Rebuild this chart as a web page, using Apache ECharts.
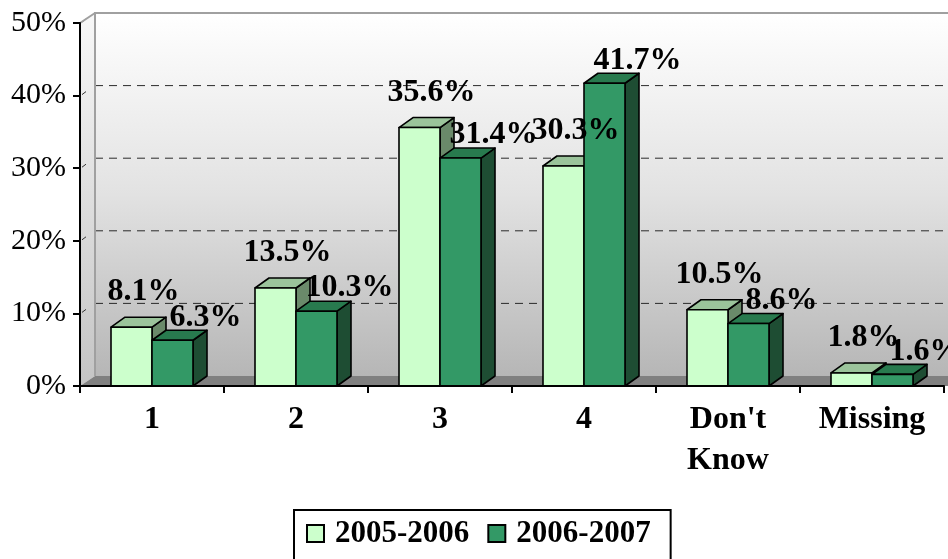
<!DOCTYPE html>
<html><head><meta charset="utf-8">
<script src="https://cdn.jsdelivr.net/npm/echarts@6/dist/echarts.min.js"></script>
<style>html,body{margin:0;padding:0;background:#fff}#c{width:948px;height:559px}</style>
</head><body><div id="c"></div>
<script>
const categories = ['1', '2', '3', '4', "Don't\nKnow", 'Missing'];
const seriesNames = ['2005-2006', '2006-2007'];
const values2005 = [8.1, 13.5, 35.6, 30.3, 10.5, 1.8];
const values2006 = [6.3, 10.3, 31.4, 41.7, 8.6, 1.6];
const yTicks = [0, 10, 20, 30, 40, 50];

const DX = 14, DY = -10;   // bar depth
const WX = 15, WY = -10;   // wall depth
const FONT = "'Liberation Serif','Times New Roman',serif";
const palette = [
  { front: '#CCFFCC', top: '#9BC49B', side: '#6A8A6A' },
  { front: '#339966', top: '#287A4E', side: '#1E4D33' }
];

function barRender(si, ldx, ldy) {
  return function (params, api) {
    const cat = api.value(0), v = api.value(1);
    const base = api.coord([cat, 0]);
    const top = api.coord([cat, v]);
    const band = api.size([1, 0])[0];
    const bw = band * 41 / 144;
    const x0 = si === 0 ? base[0] - bw : base[0];
    const x1 = x0 + bw;
    const yb = base[1], yt = top[1];
    const c = palette[si];
    const st = (fill) => ({ fill: fill, stroke: '#000', lineWidth: 1.6, lineJoin: 'round' });
    return {
      type: 'group',
      children: [
        { type: 'polygon', shape: { points: [[x1, yb], [x1, yt], [x1 + DX, yt + DY], [x1 + DX, yb + DY]] }, style: st(c.side) },
        { type: 'polygon', shape: { points: [[x0, yt], [x0 + DX, yt + DY], [x1 + DX, yt + DY], [x1, yt]] }, style: st(c.top) },
        { type: 'rect', shape: { x: x0, y: yt, width: bw, height: yb - yt }, style: st(c.front) },
        { type: 'text', z2: 100, style: { text: v.toFixed(1) + '%', x: (x0 + x1) / 2 + ldx, y: yt - ldy,
          font: 'bold 32px ' + FONT, fill: '#000', align: 'center', verticalAlign: 'middle' } }
      ]
    };
  };
}

function wallRender(params, api) {
  const cs = params.coordSys;
  const x = cs.x, y = cs.y, w = cs.width, h = cs.height;
  const yb = y + h;
  const children = [];
  children.push({ type: 'rect', shape: { x: x + WX, y: y + WY, width: w + 40, height: h },
    style: { fill: { type: 'linear', x: 0, y: 0, x2: 0, y2: 1, colorStops: [
      { offset: 0, color: '#ffffff' }, { offset: 0.5, color: '#e2e2e2' }, { offset: 1, color: '#b6b6b6' }] } } });
  children.push({ type: 'polygon', shape: { points: [[x, yb], [x, y], [x + WX, y + WY], [x + WX, yb + WY]] },
    style: { fill: { type: 'linear', x: 0, y: 0, x2: 0, y2: 1, colorStops: [
      { offset: 0, color: '#f8f8f8' }, { offset: 1, color: '#c4c4c4' }] } } });
  yTicks.forEach(t => {
    const yy = api.coord([0, t])[1];
    if (t > 0 && t < 50) {
      children.push({ type: 'line', shape: { x1: x + WX, y1: yy + WY, x2: x + w + 40, y2: yy + WY },
        style: { stroke: '#2a2a2a', lineWidth: 1, lineDash: [8, 6] } });
    }
    if (t > 0) {
      children.push({ type: 'line', shape: { x1: x + 2, y1: yy - 1, x2: x + 6, y2: yy - 4 },
        style: { stroke: '#333', lineWidth: 1 } });
    }
  });
  children.push({ type: 'polyline', shape: { points: [[x + WX, yb + WY], [x + WX, y + WY], [x + w + 40, y + WY]] },
    style: { stroke: '#a0a0a0', lineWidth: 2, fill: null } });
  children.push({ type: 'line', shape: { x1: x, y1: y, x2: x + WX, y2: y + WY },
    style: { stroke: '#a0a0a0', lineWidth: 2 } });
  children.push({ type: 'polygon', shape: { points: [[x, yb], [x + WX, yb + WY], [x + w + 40, yb + WY], [x + w + 40, yb]] },
    style: { fill: '#808080' } });
  return { type: 'group', children: children };
}

const chart = echarts.init(document.getElementById('c'), null, { renderer: 'canvas' });
chart.setOption({
  animation: false,
  backgroundColor: '#fff',
  grid: { left: 80, top: 23, width: 864, height: 363, containLabel: false },
  xAxis: {
    type: 'category', data: categories, z: 10,
    axisLine: { lineStyle: { color: '#000', width: 2 } },
    axisTick: { show: true, length: 7, lineStyle: { color: '#000', width: 2 } },
    axisLabel: { interval: 0, margin: 13, color: '#000', fontFamily: FONT, fontWeight: 'bold', fontSize: 32, lineHeight: 41 }
  },
  yAxis: {
    type: 'value', min: 0, max: 50, interval: 10, z: 10,
    axisLine: { show: true, lineStyle: { color: '#000', width: 2 } },
    axisTick: { show: true, length: 7, lineStyle: { color: '#000', width: 2 } },
    splitLine: { show: false },
    axisLabel: { margin: 14, color: '#000', fontFamily: FONT, fontSize: 30, formatter: '{value}%' }
  },
  legend: {
    left: 294, top: 510, orient: 'horizontal',
    borderColor: '#000', borderWidth: 2, padding: [8, 20, 30, 12],
    itemWidth: 17, itemHeight: 17, itemGap: 18,
    textStyle: { fontFamily: FONT, fontWeight: 'bold', fontSize: 31, color: '#000', padding: [0, 0, 0, 6] },
    data: [
      { name: seriesNames[0], icon: 'rect', itemStyle: { color: palette[0].front, borderColor: '#000', borderWidth: 2 } },
      { name: seriesNames[1], icon: 'rect', itemStyle: { color: palette[1].front, borderColor: '#000', borderWidth: 2 } }
    ]
  },
  series: [
    { type: 'custom', name: 'walls', z: 1, silent: true, renderItem: wallRender, data: [[0, 0]], encode: { x: 0, y: 1 } },
    { type: 'custom', name: seriesNames[0], z: 2, itemStyle: { color: palette[0].front },
      renderItem: barRender(0, 12, 35), data: values2005.map((v, i) => [i, v]), encode: { x: 0, y: 1 } },
    { type: 'custom', name: seriesNames[1], z: 2, itemStyle: { color: palette[1].front },
      renderItem: barRender(1, 33, 23), data: values2006.map((v, i) => [i, v]), encode: { x: 0, y: 1 } }
  ]
});
</script></body></html>
